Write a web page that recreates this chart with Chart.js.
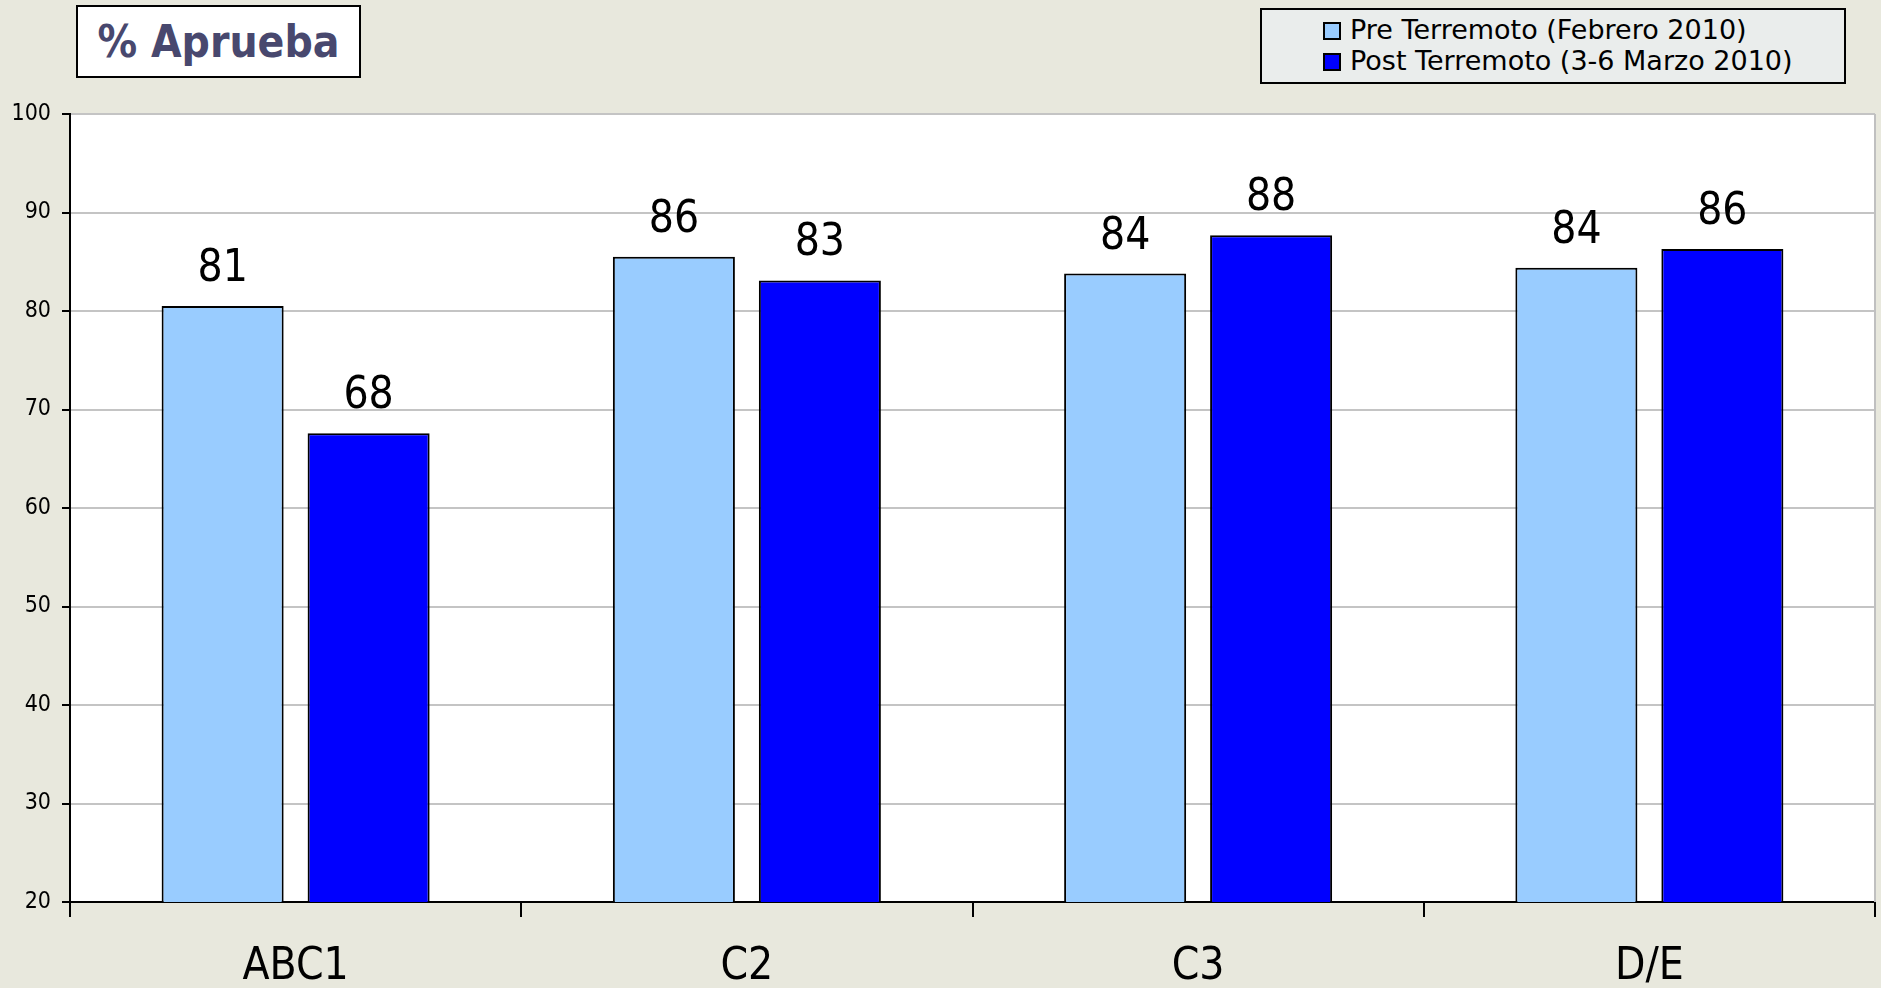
<!DOCTYPE html>
<html>
<head>
<meta charset="utf-8">
<script src="https://cdn.jsdelivr.net/npm/chart.js@4.4.0/dist/chart.umd.min.js"></script>
<style>
  html, body { margin: 0; padding: 0; background: #e8e8dd; overflow: hidden; }
  #wrap { position: relative; width: 1881px; height: 988px; }
  #chart { position: absolute; left: 0; top: 0; }
  #title-box {
    position: absolute; left: 76px; top: 5px; width: 281px; height: 69px;
    background: #fff; border: 2px solid #000;
    font: bold 44px "DejaVu Sans Condensed", "DejaVu Sans", sans-serif;
    color: #48486e; text-align: center; line-height: 69px;
  }
  #legend-box {
    position: absolute; left: 1260px; top: 8px; width: 582px; height: 72px;
    background: #eaedec; border: 2px solid #000;
    font: 27px "DejaVu Sans", sans-serif; color: #000;
  }
  .item { position: absolute; left: 61px; height: 31px; line-height: 31px; white-space: nowrap; }
  .swatch { display: inline-block; width: 14px; height: 14px; border: 2px solid #000; margin-right: 9px; vertical-align: -1px; }
</style>
</head>
<body>
<div id="wrap">
  <canvas id="chart" width="1881" height="988"></canvas>
  <div id="title-box">% Aprueba</div>
  <div id="legend-box"></div>
</div>
<script>
const categories = ['ABC1', 'C2', 'C3', 'D/E'];
const seriesNames = ['Pre Terremoto (Febrero 2010)', 'Post Terremoto (3-6 Marzo 2010)'];
const preValues = [80.5, 85.5, 83.8, 84.4];
const postValues = [67.6, 83.1, 87.7, 86.3];
const seriesColors = ['#99ccff', '#0000ff'];
const yTicks = [20, 30, 40, 50, 60, 70, 80, 90, 100];

const FONT = '"DejaVu Sans Condensed", "DejaVu Sans", sans-serif';

// legend built from the series
const legendBox = document.getElementById('legend-box');
seriesNames.forEach(function (name, i) {
  const item = document.createElement('div');
  item.className = 'item';
  item.style.top = (4 + i * 31) + 'px';
  item.innerHTML = '<span class="swatch" style="background:' + seriesColors[i] + '"></span>' + name;
  legendBox.appendChild(item);
});

// white plot area + grey right edge
const plotBg = {
  id: 'plotBg',
  beforeDraw: function (chart) {
    const a = chart.chartArea;
    const ctx = chart.ctx;
    ctx.save();
    ctx.fillStyle = '#ffffff';
    ctx.fillRect(a.left, a.top, a.right - a.left, a.bottom - a.top);
    ctx.restore();
  },
  afterDraw: function (chart) {
    const a = chart.chartArea;
    const ctx = chart.ctx;
    ctx.save();
    ctx.strokeStyle = '#c0c0c0';
    ctx.lineWidth = 2;
    ctx.beginPath();
    ctx.moveTo(a.right, a.top);
    ctx.lineTo(a.right, a.bottom);
    ctx.stroke();
    ctx.restore();
  }
};

// value labels above the bars
const valueLabels = {
  id: 'valueLabels',
  afterDatasetsDraw: function (chart) {
    const ctx = chart.ctx;
    ctx.save();
    ctx.font = '44px ' + FONT;
    ctx.fillStyle = '#000';
    ctx.textAlign = 'center';
    ctx.textBaseline = 'alphabetic';
    chart.data.datasets.forEach(function (ds, i) {
      chart.getDatasetMeta(i).data.forEach(function (bar, j) {
        ctx.fillText(String(Math.round(ds.data[j])), bar.x, bar.y - 25);
      });
    });
    ctx.restore();
  }
};

new Chart(document.getElementById('chart').getContext('2d'), {
  type: 'bar',
  data: {
    labels: categories,
    datasets: [
      { label: seriesNames[0], data: preValues, backgroundColor: seriesColors[0] },
      { label: seriesNames[1], data: postValues, backgroundColor: seriesColors[1] }
    ]
  },
  options: {
    responsive: false,
    animation: false,
    layout: { padding: { top: 114, right: 6, left: 0, bottom: 0 } },
    datasets: {
      bar: {
        borderColor: '#000',
        borderWidth: 2,
        categoryPercentage: 0.647,
        barPercentage: 0.836
      }
    },
    scales: {
      x: {
        grid: {
          offset: true,
          drawOnChartArea: false,
          color: '#000',
          lineWidth: 2,
          tickLength: 15
        },
        border: { color: '#000', width: 2 },
        ticks: {
          color: '#000',
          padding: 24,
          font: { family: FONT, size: 44 }
        },
        afterFit: function (scale) { scale.height = 86; }
      },
      y: {
        min: 20,
        max: 100,
        afterBuildTicks: function (scale) {
          scale.ticks = yTicks.map(function (v) { return { value: v }; });
        },
        grid: {
          color: function (c) { return c.tick && c.tick.value === 20 ? '#000' : '#c4c4c4'; },
          lineWidth: 2,
          tickColor: '#000',
          tickLength: 8
        },
        border: { color: '#000', width: 2 },
        ticks: {
          color: '#000',
          padding: 11,
          font: { family: FONT, size: 23 }
        },
        afterFit: function (scale) { scale.width = 70; }
      }
    },
    plugins: {
      legend: { display: false },
      tooltip: { enabled: false }
    }
  },
  plugins: [plotBg, valueLabels]
});
</script>
</body>
</html>
